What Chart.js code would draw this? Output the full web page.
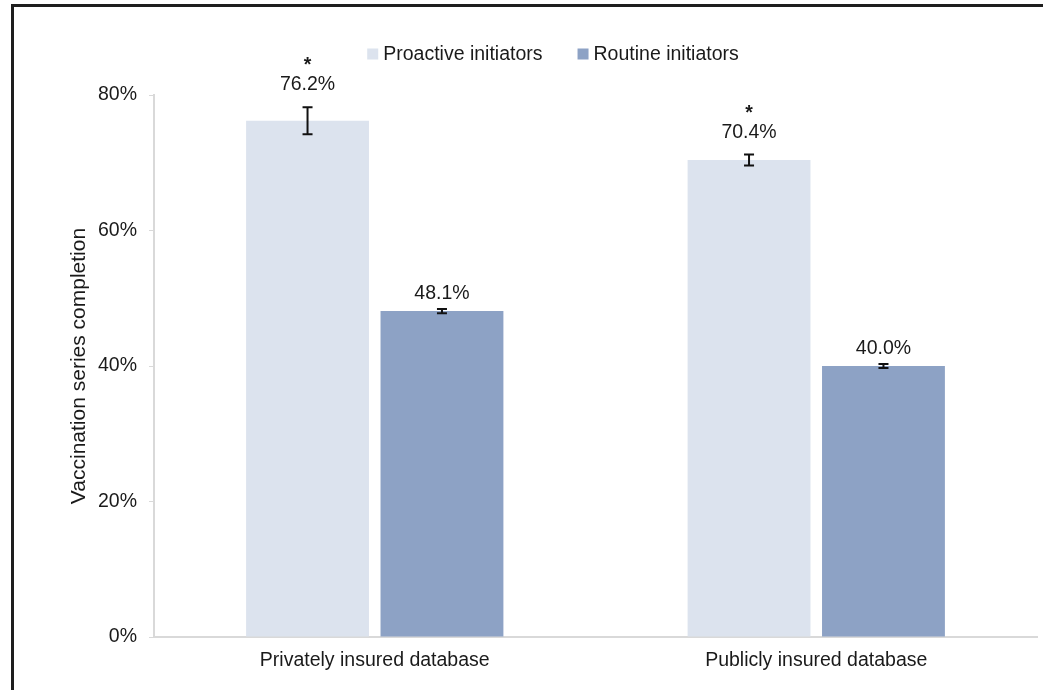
<!DOCTYPE html>
<html>
<head>
<meta charset="utf-8">
<script src="https://cdn.jsdelivr.net/npm/chart.js@4"></script>
<style>
  html, body { margin: 0; padding: 0; background: #fff; }
  #wrap { position: relative; width: 1043px; height: 690px; overflow: hidden; }
  #frame { position: absolute; left: 11px; top: 4px; width: 1100px; height: 800px;
           border-top: 3px solid #1e1e1e; border-left: 3px solid #1e1e1e; pointer-events: none; }
  canvas { position: absolute; left: 0; top: 0; }
</style>
</head>
<body>
<div id="wrap">
  <canvas id="c" width="1043" height="690"></canvas>
  <div id="frame"></div>
</div>
<script>
const categories = ["Privately insured database", "Publicly insured database"];
const seriesNames = ["Proactive initiators", "Routine initiators"];
const proactive = [76.2, 70.4];
const routine = [48.1, 40.0];
const proactiveErr = [2.0, 0.8];
const routineErr = [0.3, 0.3];
const proactiveMark = ["*", "*"];
const routineMark = ["", ""];
const yTicks = [0, 20, 40, 60, 80];

const FONT = "'Liberation Sans', Arial, sans-serif";
const FS = 19.5;
const errs = [proactiveErr, routineErr];
const marks = [proactiveMark, routineMark];

const barLabels = {
  id: 'barLabels',
  afterDatasetsDraw(chart) {
    const ctx = chart.ctx;
    const y = chart.scales.y;
    ctx.save();
    chart.data.datasets.forEach((ds, di) => {
      const meta = chart.getDatasetMeta(di);
      meta.data.forEach((bar, i) => {
        const v = ds.data[i];
        const e = errs[di][i];
        const x = bar.x;
        const yTop = y.getPixelForValue(v + e);
        const yBot = y.getPixelForValue(v - e);
        ctx.strokeStyle = '#111';
        ctx.lineWidth = 2;
        ctx.beginPath();
        ctx.moveTo(x, yTop); ctx.lineTo(x, yBot);
        ctx.moveTo(x - 5, yTop); ctx.lineTo(x + 5, yTop);
        ctx.moveTo(x - 5, yBot); ctx.lineTo(x + 5, yBot);
        ctx.stroke();
        ctx.fillStyle = '#1a1a1a';
        ctx.font = FS + 'px ' + FONT;
        ctx.textAlign = 'center';
        ctx.textBaseline = 'alphabetic';
        const lblBase = yTop - (di === 0 ? 17 : 10);
        ctx.fillText(v.toFixed(1) + '%', x, lblBase);
        const m = marks[di][i];
        if (m) {
          ctx.font = 'bold ' + FS + 'px ' + FONT;
          ctx.fillText(m, x, lblBase - 19);
        }
      });
    });
    ctx.restore();
  }
};

const topLegend = {
  id: 'topLegend',
  afterDraw(chart) {
    const ctx = chart.ctx;
    const ds = chart.data.datasets;
    const box = 11, gap = 5, spacing = 35, cy = 54, centerX = 553;
    ctx.save();
    ctx.font = FS + 'px ' + FONT;
    const widths = ds.map(d => ctx.measureText(d.label).width);
    let total = 0;
    widths.forEach((w, i) => { total += box + gap + w + (i < widths.length - 1 ? spacing : 0); });
    let x = centerX - total / 2;
    ds.forEach((d, i) => {
      ctx.fillStyle = d.backgroundColor;
      ctx.fillRect(x, cy - box / 2, box, box);
      ctx.fillStyle = '#1a1a1a';
      ctx.textAlign = 'left';
      ctx.textBaseline = 'middle';
      ctx.fillText(d.label, x + box + gap, cy + 1);
      x += box + gap + widths[i] + spacing;
    });
    ctx.restore();
  }
};

new Chart(document.getElementById('c'), {
  type: 'bar',
  data: {
    labels: categories,
    datasets: [
      { label: seriesNames[0], data: proactive, backgroundColor: '#dce3ee', categoryPercentage: 0.609, barPercentage: 0.914 },
      { label: seriesNames[1], data: routine, backgroundColor: '#8da2c5', categoryPercentage: 0.609, barPercentage: 0.914 }
    ]
  },
  options: {
    responsive: false,
    animation: false,
    devicePixelRatio: 1,
    layout: { padding: { left: 0, right: 6, top: 95, bottom: 0 } },
    plugins: {
      legend: { display: false },
      tooltip: { enabled: false }
    },
    scales: {
      x: {
        afterFit(axis) { axis.height = 53; },
        grid: { display: false, drawTicks: false },
        border: { color: '#d9d9d9', width: 2 },
        ticks: { font: { family: FONT, size: FS }, color: '#1a1a1a', padding: 12 }
      },
      y: {
        min: 0, max: 80,
        afterFit(axis) { axis.width = 154; },
        afterBuildTicks(axis) { axis.ticks = yTicks.map(v => ({ value: v })); },
        grid: { display: true, drawOnChartArea: false, tickLength: 5, color: '#d9d9d9' },
        border: { color: '#d9d9d9', width: 2 },
        ticks: { font: { family: FONT, size: FS }, color: '#1a1a1a', padding: 12, callback: v => v + '%' },
        title: { display: true, text: 'Vaccination series completion', font: { family: FONT, size: 21 }, color: '#1a1a1a', padding: { top: 67, bottom: 0 } }
      }
    }
  },
  plugins: [barLabels, topLegend]
});
</script>
</body>
</html>
